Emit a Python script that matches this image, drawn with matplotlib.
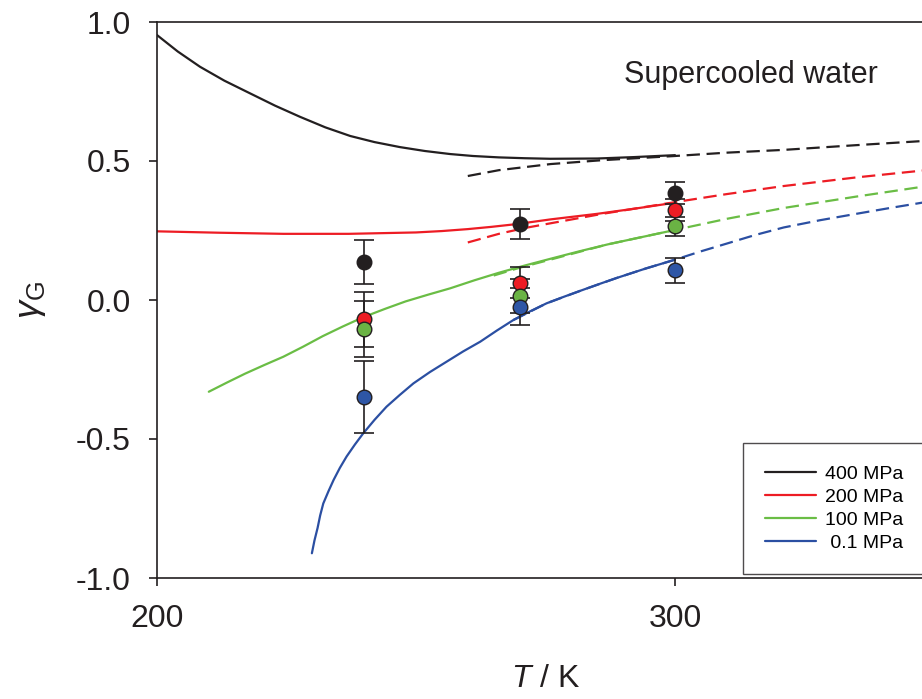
import matplotlib
matplotlib.use("Agg")
import matplotlib.pyplot as plt

plt.rcParams['font.family'] = ['Liberation Sans', 'DejaVu Sans']
plt.rcParams['mathtext.fontset'] = 'custom'
plt.rcParams['mathtext.rm'] = 'Liberation Sans'
plt.rcParams['mathtext.it'] = 'Liberation Sans:italic'

# ---- data ----
black_solid_T = [200, 204, 208.3, 213, 218, 222.8, 227.6, 232.5, 237.3, 242, 246.9, 251.7, 256.6, 261, 266, 271, 275.9, 285, 292, 300]
black_solid_g = [0.953, 0.894, 0.839, 0.789, 0.743, 0.699, 0.659, 0.621, 0.590, 0.568, 0.550, 0.536, 0.525, 0.518, 0.513, 0.510, 0.508, 0.509, 0.514, 0.521]
black_dash_T = [260, 266, 276, 286, 300, 310, 321, 335, 348]
black_dash_g = [0.446, 0.467, 0.489, 0.503, 0.518, 0.53, 0.54, 0.557, 0.572]

red_solid_T = [200, 212, 224.4, 237, 250, 255, 260, 264.5, 269.4, 276, 285, 292, 300]
red_solid_g = [0.247, 0.242, 0.238, 0.238, 0.243, 0.248, 0.255, 0.263, 0.273, 0.29, 0.31, 0.328, 0.35]
red_dash_T = [260, 266, 271, 276, 286, 300, 310, 321, 335, 348]
red_dash_g = [0.207, 0.238, 0.259, 0.276, 0.31, 0.352, 0.381, 0.41, 0.441, 0.466]

green_solid_T = [210, 213.5, 217, 220.7, 224.4, 228.2, 232, 235.9, 239.8, 244, 248, 252.3, 256.6, 261.3, 266, 271, 275.9, 281.5, 287, 293.5, 300]
green_solid_g = [-0.33, -0.297, -0.265, -0.234, -0.204, -0.168, -0.13, -0.095, -0.062, -0.032, -0.005, 0.019, 0.042, 0.071, 0.098, 0.124, 0.148, 0.175, 0.2, 0.226, 0.252]
green_dash_T = [265, 270, 275.9, 281.5, 287, 293.5, 300, 310, 321, 335, 348]
green_dash_g = [0.088, 0.116, 0.145, 0.173, 0.2, 0.226, 0.252, 0.292, 0.331, 0.372, 0.408]

blue_solid_T = [229.9, 230.4, 231, 231.5, 232.1, 233.1, 234.1, 235.3, 236.6, 238.2, 239.8, 242, 244.3, 246.9, 249.5, 252.7, 255.9, 259.1, 262.4, 265.6, 268.8, 272, 275.2, 278.6, 282, 285.3, 288.7, 294.3, 300]
blue_solid_g = [-0.911, -0.865, -0.82, -0.775, -0.732, -0.688, -0.647, -0.604, -0.563, -0.52, -0.48, -0.431, -0.384, -0.341, -0.30, -0.259, -0.222, -0.185, -0.15, -0.11, -0.072, -0.041, -0.012, 0.012, 0.035, 0.057, 0.079, 0.113, 0.145]
blue_dash_T = [268.8, 275.2, 282, 288.7, 294.3, 300, 305, 310, 315.5, 321, 328, 335, 341.5, 348]
blue_dash_g = [-0.072, -0.012, 0.035, 0.079, 0.113, 0.145, 0.175, 0.203, 0.234, 0.261, 0.287, 0.31, 0.331, 0.351]

T_points = [240, 270, 300]
black_pts = [0.136, 0.273, 0.386]
black_err = [0.08, 0.053, 0.04]
red_pts = [-0.07, 0.062, 0.324]
red_err = [0.1, 0.056, 0.04]
green_pts = [-0.104, 0.014, 0.265]
green_err = [0.1, 0.06, 0.035]
blue_pts = [-0.35, -0.024, 0.107]
blue_err = [0.13, 0.066, 0.045]

labels = ['400 MPa', '200 MPa', '100 MPa', ' 0.1 MPa']
line_colors = ['#231f20', '#ed1c24', '#6abd45', '#2b4fa2']
face_colors = ['#231f20', '#ed1c24', '#6ab344', '#2e56a6']

W, H = 922, 699
fig = plt.figure(figsize=(W / 100, H / 100), dpi=100)
left, right, top, bottom = 157, 934, 22, 578
ax = fig.add_axes([left / W, 1 - bottom / H, (right - left) / W, (bottom - top) / H])

solids = [(black_solid_T, black_solid_g), (red_solid_T, red_solid_g),
          (green_solid_T, green_solid_g), (blue_solid_T, blue_solid_g)]
dashes = [(black_dash_T, black_dash_g), (red_dash_T, red_dash_g),
          (green_dash_T, green_dash_g), (blue_dash_T, blue_dash_g)]
pts = [(black_pts, black_err), (red_pts, red_err), (green_pts, green_err), (blue_pts, blue_err)]

handles = []
for (sT, sg), (dT, dg), c, lab in zip(solids, dashes, line_colors, labels):
    h, = ax.plot(sT, sg, color=c, lw=1.6, label=lab, zorder=2,
                 solid_joinstyle='round', solid_capstyle='round')
    ax.plot(dT, dg, color=c, lw=1.6, dashes=(6, 3), zorder=2, dash_joinstyle='round')
    handles.append(h)

for (p, e), fc in zip(pts, face_colors):
    ax.errorbar(T_points, p, yerr=e, fmt='none', ecolor='#231f20', elinewidth=1.2,
                capsize=7.5, capthick=1.2, zorder=3)
for (p, e), fc in zip(pts, face_colors):
    ax.plot(T_points, p, 'o', ms=10.5, mfc=fc, mec='#231f20', mew=1.0, zorder=4)

ax.set_xlim(200, 350)
ax.set_ylim(-1.0, 1.0)
ax.set_xticks([200, 300])
ax.set_yticks([-1.0, -0.5, 0.0, 0.5, 1.0])
ax.set_yticklabels(['-1.0', '-0.5', '0.0', '0.5', '1.0'])
ax.tick_params(axis='both', direction='out', length=6, width=1.2, labelsize=23,
               colors='#231f20')
ax.tick_params(axis='x', pad=13)
ax.tick_params(axis='y', pad=13)
for s in ax.spines.values():
    s.set_linewidth(1.2)
    s.set_color('#231f20')

ax.set_xlabel(r'$T$ / K', fontsize=23, labelpad=21, color='#231f20')
ax.set_ylabel(r'$\gamma_{\mathrm{G}}$', fontsize=26, labelpad=20, color='#231f20')

ax.text(0.601, 0.905, 'Supercooled water', transform=ax.transAxes, fontsize=22,
        color='#231f20', ha='left', va='center')

leg = ax.legend(handles=handles, loc='upper left', bbox_to_anchor=(0.754, 0.243),
                borderaxespad=0, fontsize=14, frameon=True, fancybox=False,
                edgecolor='#231f20', handlelength=2.6, handletextpad=0.5,
                labelspacing=0.28, borderpad=1.15)
leg.get_frame().set_linewidth(1.0)

fig.savefig('out.png', dpi=100)
